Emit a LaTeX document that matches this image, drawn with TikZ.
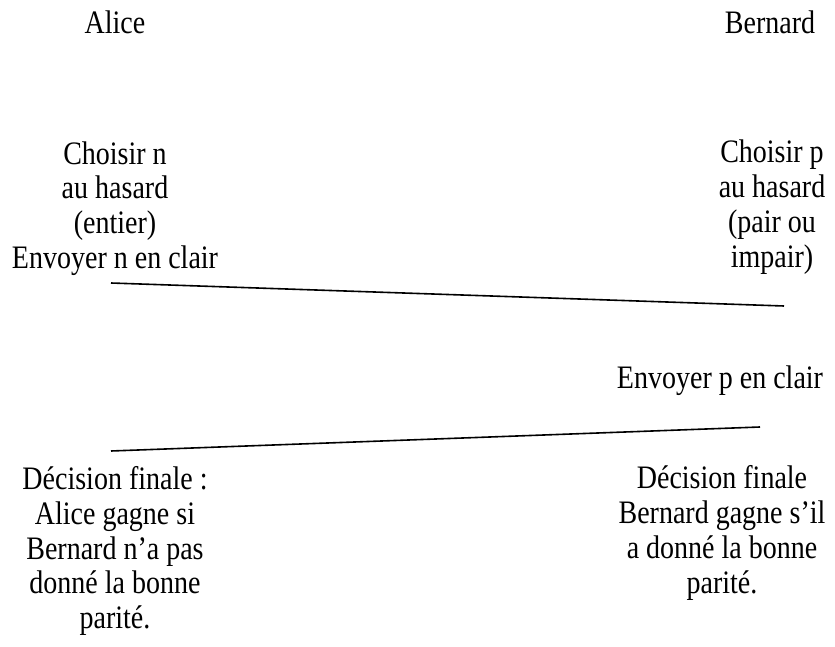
\documentclass[tikz,border=0pt]{standalone}
\usepackage{fontspec}
\usepackage{graphicx}
\setmainfont{Liberation Serif}[Ligatures=TeX]
% centred block of lines, stretched upright
\newcommand{\tallblock}[1]{\scalebox{1}[1.17]{\begin{tabular}{@{}c@{}}#1\end{tabular}}}
\begin{document}
\begin{tikzpicture}[x=1pt,y=-1pt,
  lbl/.style={align=center,inner sep=0pt,
    font=\rmfamily\fontsize{28}{29.9}\selectfont},
  msg/.style={line width=1.6pt}]
\useasboundingbox (0,0) rectangle (835,647);
\renewcommand{\arraystretch}{1}
% participants
\node[lbl] (alice) at (115,27) {\tallblock{Alice}};
\node[lbl] (bernard) at (770,27) {\tallblock{Bernard}};
% choices
\node[lbl] (choixA) at (115,192) {\tallblock{Choisir n\\au hasard\\(entier)}};
\node[lbl] (choixB) at (772,208) {\tallblock{Choisir p\\au hasard\\(pair ou\\impair)}};
% first message
\node[lbl] (envA) at (115,262) {\tallblock{Envoyer n en clair}};
\coordinate (m1s) at (111,283);
\coordinate (m1e) at (784,306);
\draw[msg] (m1s) -- (m1e);
% second message
\node[lbl] (envB) at (720,382) {\tallblock{Envoyer p en clair}};
\coordinate (m2s) at (760,427);
\coordinate (m2e) at (111,451);
\draw[msg] (m2s) -- (m2e);
% outcomes
\node[lbl] (decA) at (115,552) {\tallblock{Décision finale :\\Alice gagne si\\Bernard n’a pas\\donné la bonne\\parité.}};
\node[lbl] (decB) at (722,534) {\tallblock{Décision finale\\Bernard gagne s’il\\a donné la bonne\\parité.}};
\end{tikzpicture}
\end{document}
